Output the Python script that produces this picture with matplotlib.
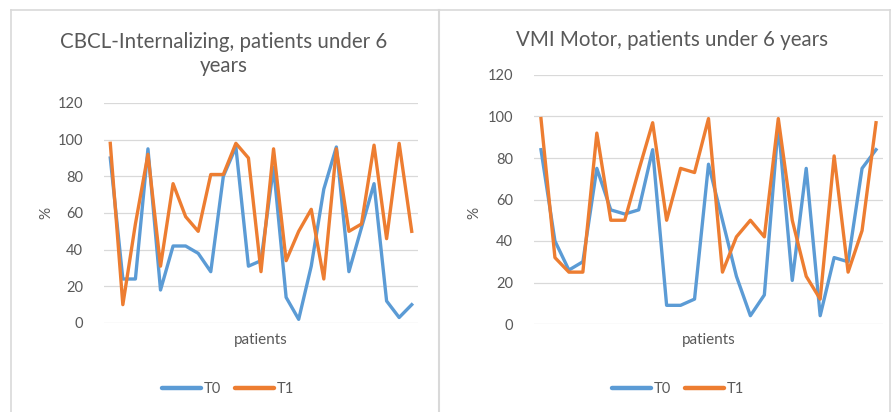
import matplotlib
matplotlib.use("Agg")
import matplotlib.pyplot as plt
from matplotlib.lines import Line2D

plt.rcParams['font.family'] = ['Lato', 'DejaVu Sans']

# Données (25 patients)
patients = list(range(25))

cbcl_t0 = [90, 24, 24, 95, 18, 42, 42, 38, 28, 80, 96, 31, 34, 85, 14, 2, 31, 73, 96, 28,
           52, 76, 12, 3, 10]
cbcl_t1 = [98, 10, 54, 92, 31, 76, 58, 50, 81, 81, 98, 90, 28, 95, 34, 50, 62, 24, 95, 50,
           54, 97, 46, 98, 50]

vmi_t0 = [84, 40, 26, 30, 75, 55, 53, 55, 84, 9, 9, 12, 77, 50, 23, 4, 14, 96, 21, 75,
          4, 32, 30, 75, 84]
vmi_t1 = [99, 32, 25, 25, 92, 50, 50, 74, 97, 50, 75, 73, 99, 25, 42, 50, 42, 99, 50, 23,
          12, 81, 25, 45, 97]

titres = ["CBCL-Internalizing, patients under 6\nyears", "VMI Motor, patients under 6 years"]
yticks = [0, 20, 40, 60, 80, 100, 120]

bleu = '#5B9BD5'
orange = '#ED7D31'
gris_texte = '#595959'
gris_grille = '#D9D9D9'

W, H = 893, 412
fig = plt.figure(figsize=(W / 100, H / 100), dpi=100)

def rect(x0, y0, x1, y1):
    # coordonnées pixels -> fractions de figure
    return [x0 / W, 1 - y1 / H, (x1 - x0) / W, (y1 - y0) / H]

axes_px = [(104, 103, 418, 323), (534, 75, 883, 324)]
series = [(cbcl_t0, cbcl_t1), (vmi_t0, vmi_t1)]
titre_pos = [(224, 54), (672, 40)]
ylabel_x = [46, 474]
legende_x = [228, 678]

for i in range(2):
    ax = fig.add_axes(rect(*axes_px[i]))
    t0, t1 = series[i]
    ax.plot(patients, t0, color=bleu, lw=2.4, label='T0', solid_joinstyle='round')
    ax.plot(patients, t1, color=orange, lw=2.4, label='T1', solid_joinstyle='round')
    ax.set_xlim(-0.5, 24.5)
    ax.set_ylim(0, 120)
    ax.set_yticks(yticks)
    ax.set_xticks([])
    ax.yaxis.grid(True, color=gris_grille, lw=0.9)
    ax.set_axisbelow(True)
    for s in ax.spines.values():
        s.set_visible(False)
    ax.tick_params(axis='y', length=0, pad=15, labelsize=10.5, labelcolor=gris_texte)

    cx = (axes_px[i][0] + axes_px[i][2]) / 2
    fig.text(cx / W, 1 - 340 / H, 'patients', ha='center', va='center',
             fontsize=11, color=gris_texte)
    fig.text(ylabel_x[i] / W, 1 - 213 / H, '%', ha='center', va='center',
             rotation=90, fontsize=11, color=gris_texte)
    tx, ty = titre_pos[i]
    fig.text(tx / W, 1 - ty / H, titres[i], ha='center', va='center',
             fontsize=14.8, color=gris_texte, linespacing=1.3)

    ax.legend(loc='center', bbox_to_anchor=(legende_x[i] / W, 1 - 389 / H),
              bbox_transform=fig.transFigure, ncol=2, frameon=False,
              fontsize=10.5, handlelength=2.7, handletextpad=0.2, columnspacing=0.9,
              labelcolor=gris_texte)
    for h in ax.get_legend().get_lines():
        h.set_linewidth(3.2)
        h.set_solid_capstyle('round')

# cadres des graphiques
bord = '#D9D9D9'
fig.add_artist(Line2D([11 / W, 890 / W], [1 - 9.5 / H, 1 - 9.5 / H], color=bord, lw=1.2))
fig.add_artist(Line2D([11 / W, 11 / W], [1 - 9.5 / H, 0], color=bord, lw=1.2))
fig.add_artist(Line2D([439 / W, 439 / W], [1 - 9.5 / H, 0], color=bord, lw=1.5))
fig.add_artist(Line2D([890 / W, 890 / W], [1 - 9.5 / H, 0], color=bord, lw=1.2))

fig.savefig('out.png', dpi=100)
